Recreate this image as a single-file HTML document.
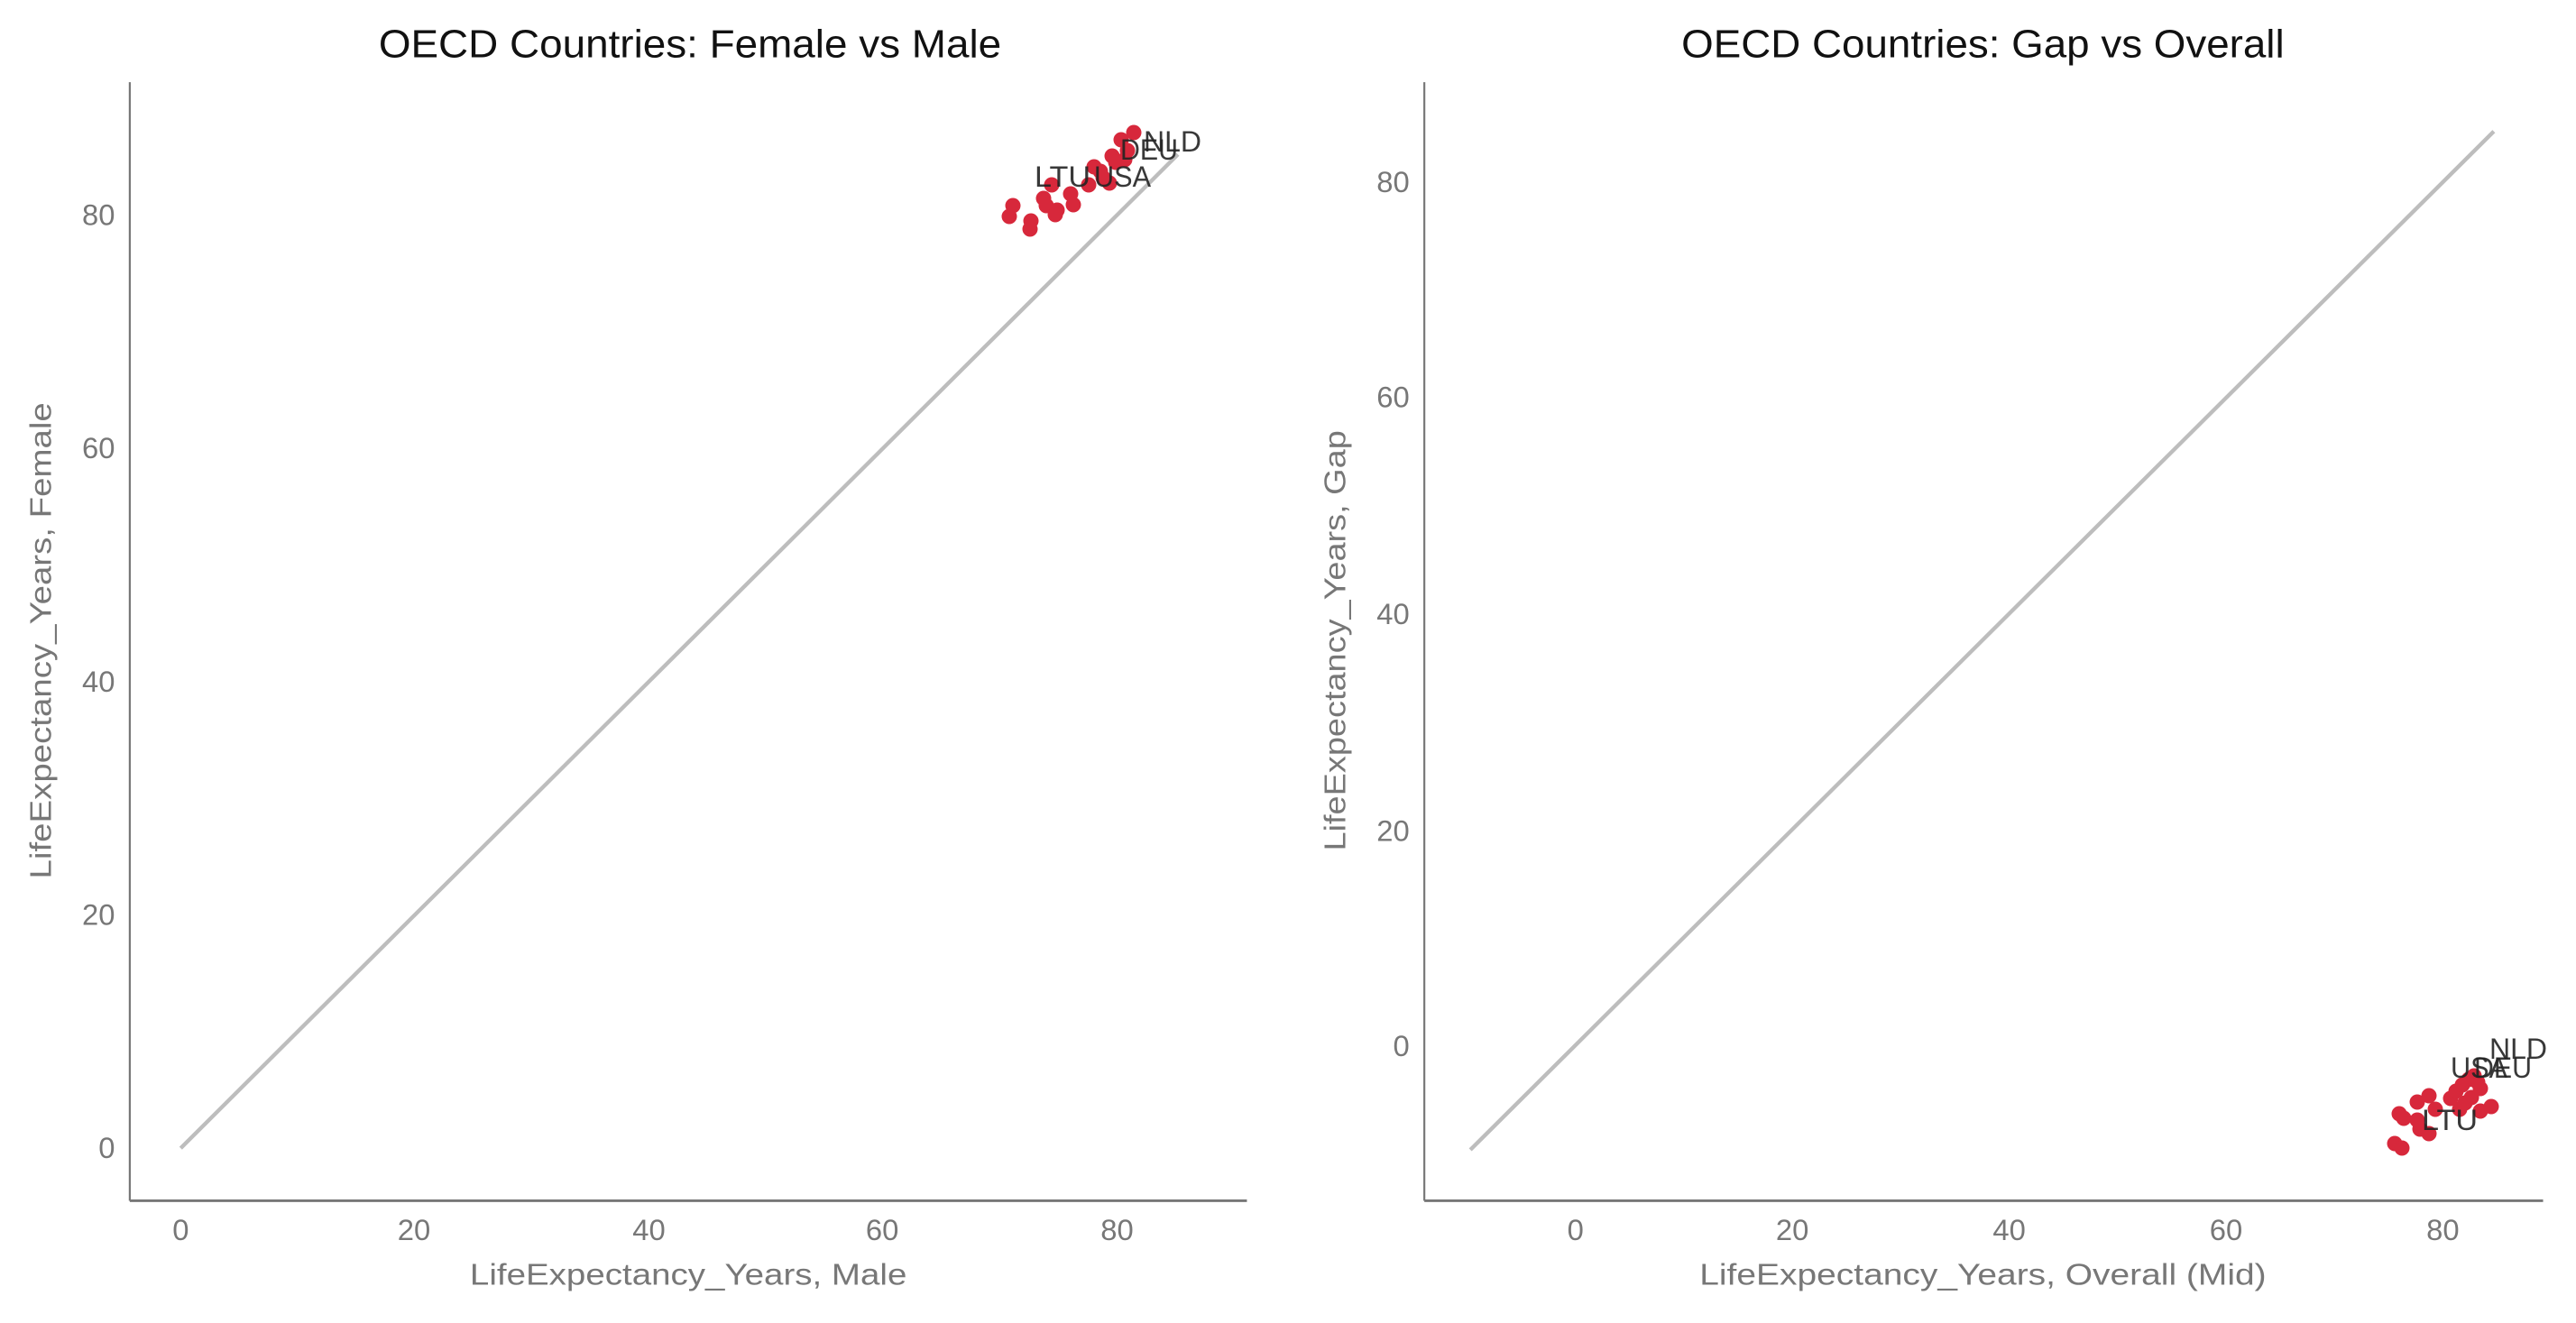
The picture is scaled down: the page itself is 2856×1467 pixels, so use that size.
<!DOCTYPE html>
<html><head><meta charset="utf-8"><style>
html,body{margin:0;padding:0;background:#fff;}
svg{display:block;}
text{font-family:"Liberation Sans Narrow","Liberation Sans",sans-serif;}
</style></head><body>
<svg width="2856" height="1467" viewBox="0 0 2856 1467" xmlns="http://www.w3.org/2000/svg">
<g transform="scale(1.8214)">
  <!-- Left panel -->
  <text x="420" y="35" font-size="24" text-anchor="middle" fill="#111" textLength="379" lengthAdjust="spacingAndGlyphs">OECD Countries: Female vs Male</text>
  <line x1="79" y1="50" x2="79" y2="731" stroke="#777" stroke-width="1.2"/>
  <line x1="79" y1="731" x2="759" y2="731" stroke="#777" stroke-width="1.6"/>
  <g font-size="18" fill="#777" text-anchor="middle">
    <text x="110" y="755">0</text><text x="252" y="755">20</text><text x="395" y="755">40</text><text x="537" y="755">60</text><text x="680" y="755">80</text>
  </g>
  <g font-size="18" fill="#777" text-anchor="end">
    <text x="70" y="705">0</text><text x="70" y="563">20</text><text x="70" y="421">40</text><text x="70" y="279">60</text><text x="70" y="137">80</text>
  </g>
  <text x="419" y="782" font-size="18.5" fill="#777" text-anchor="middle" textLength="266" lengthAdjust="spacingAndGlyphs">LifeExpectancy_Years, Male</text>
  <text transform="translate(31,390) rotate(-90)" font-size="18.5" fill="#777" text-anchor="middle" textLength="290" lengthAdjust="spacingAndGlyphs">LifeExpectancy_Years, Female</text>
  <line x1="110" y1="699" x2="717" y2="94" stroke="#bdbdbd" stroke-width="2.4"/>

  <!-- Right panel -->
  <text x="1207" y="35" font-size="24" text-anchor="middle" fill="#111" textLength="367" lengthAdjust="spacingAndGlyphs">OECD Countries: Gap vs Overall</text>
  <line x1="867" y1="50" x2="867" y2="731" stroke="#777" stroke-width="1.2"/>
  <line x1="867" y1="731" x2="1548" y2="731" stroke="#777" stroke-width="1.6"/>
  <g font-size="18" fill="#777" text-anchor="middle">
    <text x="959" y="755">0</text><text x="1091" y="755">20</text><text x="1223" y="755">40</text><text x="1355" y="755">60</text><text x="1487" y="755">80</text>
  </g>
  <g font-size="18" fill="#777" text-anchor="end">
    <text x="858" y="643">0</text><text x="858" y="512">20</text><text x="858" y="380">40</text><text x="858" y="248">60</text><text x="858" y="117">80</text>
  </g>
  <text x="1207" y="782" font-size="18.5" fill="#777" text-anchor="middle" textLength="345" lengthAdjust="spacingAndGlyphs">LifeExpectancy_Years, Overall (Mid)</text>
  <text transform="translate(819,390) rotate(-90)" font-size="18.5" fill="#777" text-anchor="middle" textLength="256" lengthAdjust="spacingAndGlyphs">LifeExpectancy_Years, Gap</text>
  <line x1="895" y1="700" x2="1518" y2="80" stroke="#bdbdbd" stroke-width="2.4"/>
</g>
<!-- points left (actual coords) -->
<g fill="#d7283b">
  <circle cx="1123" cy="228" r="8.5"/><circle cx="1119" cy="240" r="8.5"/><circle cx="1143" cy="245" r="8.5"/><circle cx="1142" cy="254" r="8.5"/>
  <circle cx="1157" cy="220" r="8.5"/><circle cx="1160" cy="228" r="8.5"/><circle cx="1172" cy="233" r="8.5"/><circle cx="1170" cy="238" r="8.5"/>
  <circle cx="1166" cy="205" r="8.5"/><circle cx="1187" cy="215" r="8.5"/><circle cx="1190" cy="227" r="8.5"/><circle cx="1207" cy="205" r="8.5"/>
  <circle cx="1213" cy="185" r="8.5"/><circle cx="1223" cy="197" r="8.5"/><circle cx="1230" cy="203" r="8.5"/><circle cx="1233" cy="173" r="8.5"/>
  <circle cx="1243" cy="155" r="8.5"/><circle cx="1250" cy="167" r="8.5"/><circle cx="1257" cy="147" r="8.5"/><circle cx="1237" cy="180" r="8.5"/>
  <circle cx="1247" cy="177" r="8.5"/><circle cx="1220" cy="190" r="8.5"/>
</g>
<g font-size="32" fill="#222" fill-opacity="0.9">
  <text x="1268" y="168" textLength="64" lengthAdjust="spacingAndGlyphs">NLD</text>
  <text x="1242" y="177" textLength="64" lengthAdjust="spacingAndGlyphs">DEU</text>
  <text x="1147" y="207" textLength="62" lengthAdjust="spacingAndGlyphs">LTU</text>
  <text x="1213" y="207" textLength="63" lengthAdjust="spacingAndGlyphs">USA</text>
</g>
<!-- points right -->
<g fill="#d7283b">
  <circle cx="2660" cy="1235" r="8.5"/><circle cx="2665" cy="1240" r="8.5"/><circle cx="2680" cy="1222" r="8.5"/><circle cx="2693" cy="1215" r="8.5"/>
  <circle cx="2700" cy="1230" r="8.5"/><circle cx="2680" cy="1242" r="8.5"/><circle cx="2683" cy="1252" r="8.5"/><circle cx="2693" cy="1257" r="8.5"/>
  <circle cx="2655" cy="1268" r="8.5"/><circle cx="2663" cy="1273" r="8.5"/><circle cx="2717" cy="1218" r="8.5"/><circle cx="2723" cy="1210" r="8.5"/>
  <circle cx="2730" cy="1203" r="8.5"/><circle cx="2737" cy="1197" r="8.5"/><circle cx="2747" cy="1200" r="8.5"/><circle cx="2750" cy="1207" r="8.5"/>
  <circle cx="2740" cy="1217" r="8.5"/><circle cx="2727" cy="1230" r="8.5"/><circle cx="2750" cy="1232" r="8.5"/><circle cx="2762" cy="1227" r="8.5"/>
  <circle cx="2733" cy="1223" r="8.5"/><circle cx="2743" cy="1193" r="8.5"/>
</g>
<g font-size="32" fill="#222" fill-opacity="0.9">
  <text x="2760" y="1174" textLength="64" lengthAdjust="spacingAndGlyphs">NLD</text>
  <text x="2717" y="1195" textLength="63" lengthAdjust="spacingAndGlyphs">USA</text>
  <text x="2743" y="1195" textLength="64" lengthAdjust="spacingAndGlyphs">DEU</text>
  <text x="2685" y="1253" textLength="62" lengthAdjust="spacingAndGlyphs">LTU</text>
</g>
</svg>
</body></html>
